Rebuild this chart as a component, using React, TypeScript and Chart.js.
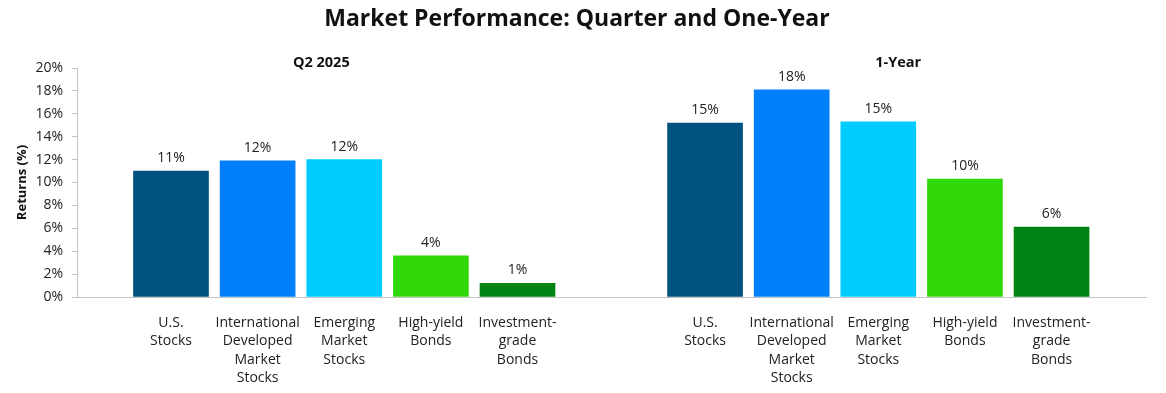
import { useEffect, useRef } from "react";
import { Chart, registerables } from "chart.js";

Chart.register(...registerables);

const chartTitle = "Market Performance: Quarter and One-Year";
const yAxisTitle = "Returns (%)";
const categories: string[][] = [
  ["U.S.", "Stocks"],
  ["International", "Developed", "Market", "Stocks"],
  ["Emerging", "Market", "Stocks"],
  ["High-yield", "Bonds"],
  ["Investment-", "grade", "Bonds"],
];
const groupTitles = ["Q2 2025", "1-Year"];
const q2Returns = [11.0, 11.9, 12.0, 3.6, 1.2];
const oneYearReturns = [15.2, 18.1, 15.3, 10.3, 6.1];
const barColors = ["#00527f", "#0080fc", "#00ccff", "#30d80a", "#008312"];

// layout in x-scale units (one unit = one bar slot)
const groupStarts = [1.085, 7.25];
const groupTitleX = [2.82, 9.48];
const xMax = 12.34;

const FONT = "'Open Sans', 'Noto Sans', sans-serif";

export default function App() {
  const ref = useRef<HTMLCanvasElement | null>(null);

  useEffect(() => {
    if (!ref.current) return;
    const groups = [q2Returns, oneYearReturns];
    const points: { x: number; y: number }[] = [];
    const colors: string[] = [];
    const labels: string[][] = [];
    groups.forEach((vals, g) => {
      vals.forEach((v, i) => {
        points.push({ x: groupStarts[g] + i, y: v });
        colors.push(barColors[i]);
        labels.push(categories[i]);
      });
    });

    const overlay = {
      id: "overlay",
      afterDatasetsDraw(chart: any) {
        const ctx = chart.ctx;
        const meta = chart.getDatasetMeta(0);
        ctx.save();
        ctx.font = `14px ${FONT}`;
        ctx.fillStyle = "#222";
        ctx.textAlign = "center";
        ctx.textBaseline = "bottom";
        meta.data.forEach((bar: any, i: number) => {
          const v = points[i].y;
          ctx.fillText(`${Math.round(v)}%`, bar.x, bar.y - 6);
        });
        const xs = chart.scales.x;
        ctx.font = `bold 14.5px ${FONT}`;
        ctx.fillStyle = "#111";
        ctx.textBaseline = "middle";
        groupTitles.forEach((t, g) => {
          ctx.fillText(t, xs.getPixelForValue(groupTitleX[g]), chart.chartArea.top - 5);
        });
        ctx.restore();
      },
    };

    const chart = new Chart(ref.current, {
      type: "bar",
      data: {
        datasets: [
          {
            data: points,
            backgroundColor: colors,
            barThickness: 75,
            grouped: false,
          } as any,
        ],
      },
      options: {
        animation: false,
        responsive: true,
        maintainAspectRatio: false,
        layout: { padding: { right: 12, top: 0, left: 0, bottom: 0 } },
        plugins: {
          legend: { display: false },
          tooltip: { enabled: false },
          title: {
            display: true,
            text: chartTitle,
            color: "#111",
            font: { family: FONT, size: 23, weight: "bold", lineHeight: 1 },
            padding: { top: 0, bottom: 37 },
          },
        },
        scales: {
          x: {
            type: "linear",
            min: 0,
            max: xMax,
            offset: false,
            grid: { display: false, drawTicks: false },
            border: { display: true, color: "#c4c4c4", width: 1 },
            afterBuildTicks: (s: any) => {
              s.ticks = points.map((p) => ({ value: p.x }));
            },
            afterFit: (s: any) => {
              s.height = 88;
            },
            ticks: {
              autoSkip: false,
              maxRotation: 0,
              minRotation: 0,
              padding: 17,
              color: "#222",
              font: { family: FONT, size: 14, lineHeight: 1.31 },
              callback: (_v: any, i: number) => labels[i],
            },
          },
          y: {
            min: 0,
            max: 20,
            afterFit: (s: any) => {
              s.width = 69;
            },
            ticks: {
              stepSize: 2,
              padding: 9,
              color: "#222",
              font: { family: FONT, size: 14 },
              callback: (v: any) => `${v}%`,
            },
            grid: {
              drawOnChartArea: false,
              drawTicks: true,
              tickLength: 5,
              color: "#c4c4c4",
            },
            border: { display: true, color: "#c4c4c4", width: 1 },
            title: {
              display: true,
              text: yAxisTitle,
              color: "#111",
              font: { family: FONT, size: 13, weight: "bold" },
              padding: { top: 6, bottom: 0 },
            },
          },
        },
      },
      plugins: [overlay],
    });
    return () => chart.destroy();
  }, []);

  return (
    <div style={{ width: "100%", height: 377, position: "relative" }}>
      <canvas ref={ref} />
    </div>
  );
}
